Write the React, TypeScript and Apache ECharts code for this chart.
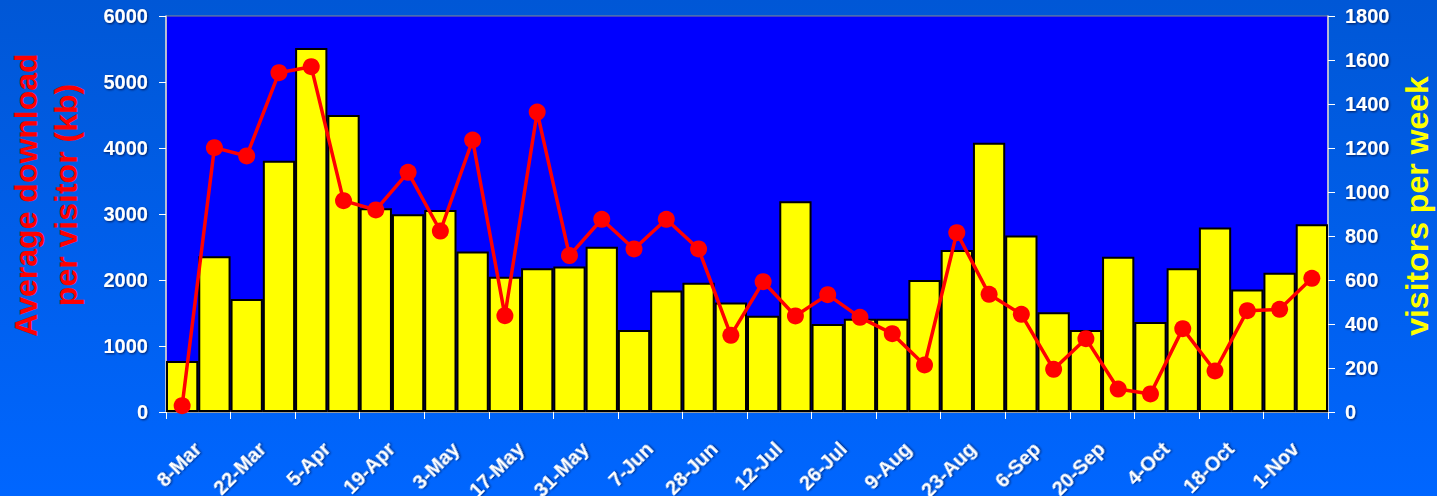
import React, { useEffect, useRef } from "react";
import * as echarts from "echarts";

const weeks = [
  "8-Mar", "15-Mar", "22-Mar", "29-Mar", "5-Apr", "12-Apr", "19-Apr", "26-Apr",
  "3-May", "10-May", "17-May", "24-May", "31-May", "3-Jun", "7-Jun", "21-Jun",
  "28-Jun", "5-Jul", "12-Jul", "19-Jul", "26-Jul", "2-Aug", "9-Aug", "16-Aug",
  "23-Aug", "30-Aug", "6-Sep", "13-Sep", "20-Sep", "27-Sep", "4-Oct", "11-Oct",
  "18-Oct", "25-Oct", "1-Nov", "8-Nov",
];

const visitorsPerWeek = [
  232, 708, 514, 1142, 1655, 1350, 926, 899, 918, 729, 615, 653,
  661, 751, 373, 552, 588, 498, 438, 958, 400, 424, 424, 600,
  736, 1224, 802, 453, 373, 706, 409, 653, 839, 557, 633, 853,
];

const avgDownloadKb = [
  95, 4005, 3879, 5141, 5232, 3202, 3061, 3632, 2742, 4121, 1460, 4545,
  2370, 2920, 2470, 2920, 2470, 1162, 1974, 1455, 1778, 1434, 1187, 712,
  2717, 1783, 1480, 647, 1111, 348, 273, 1263, 621, 1535, 1556, 2025,
];

const leftTicks = { min: 0, max: 6000, interval: 1000 };
const rightTicks = { min: 0, max: 1800, interval: 200 };

const FONT = '"Liberation Sans", Arial, Helvetica, sans-serif';

export default function App() {
  const ref = useRef<HTMLDivElement>(null);

  useEffect(() => {
    if (!ref.current) return;
    const chart = echarts.init(ref.current, null, { renderer: "svg" });

    const labelStyle = {
      color: "#ffffff",
      fontWeight: "bold" as const,
      fontSize: 20,
      fontFamily: FONT,
      textShadowColor: "rgba(0,0,40,0.7)",
      textShadowBlur: 2,
      textShadowOffsetX: 1,
      textShadowOffsetY: 1,
    };

    chart.setOption({
      animation: false,
      backgroundColor: new echarts.graphic.LinearGradient(0, 0, 0, 1, [
        { offset: 0, color: "#0057d6" },
        { offset: 1, color: "#0066ff" },
      ]),
      grid: {
        left: 166,
        right: 109,
        top: 16,
        bottom: 84,
        containLabel: false,
        outerBoundsMode: "none",
        show: true,
        backgroundColor: "#0000ff",
        borderColor: "#888888",
        borderWidth: 1,
      },
      xAxis: {
        type: "category",
        data: weeks,
        boundaryGap: true,
        axisLine: { show: true, lineStyle: { color: "#9a9a9a", width: 2 } },
        axisTick: {
          show: true,
          interval: 1,
          length: 7,
          lineStyle: { color: "#ffffff", width: 1 },
        },
        axisLabel: {
          ...labelStyle,
          interval: 1,
          rotate: 45,
          margin: 18,
          align: "right",
          verticalAlign: "top",
          lineHeight: 44,
          showMinLabel: true,
          hideOverlap: false,
        },
        splitLine: { show: false },
      },
      yAxis: [
        {
          type: "value",
          position: "left",
          ...leftTicks,
          axisLine: { show: true, lineStyle: { color: "#dddddd", width: 1.5 } },
          axisTick: { show: true, length: 7, lineStyle: { color: "#ffffff" } },
          axisLabel: { ...labelStyle, margin: 18, formatter: (v: number) => String(v) },
          splitLine: { show: false },
        },
        {
          type: "value",
          position: "right",
          ...rightTicks,
          axisLine: { show: true, lineStyle: { color: "#dddddd", width: 1.5 } },
          axisTick: { show: true, length: 7, lineStyle: { color: "#ffffff" } },
          axisLabel: { ...labelStyle, margin: 17, formatter: (v: number) => String(v) },
          splitLine: { show: false },
        },
      ],
      series: [
        {
          name: "visitors per week",
          type: "bar",
          yAxisIndex: 1,
          data: visitorsPerWeek,
          barCategoryGap: "0%",
          itemStyle: { color: "#ffff00", borderColor: "#000000", borderWidth: 2 },
          z: 2,
        },
        {
          name: "Average download per visitor (kb)",
          type: "line",
          yAxisIndex: 0,
          data: avgDownloadKb,
          symbol: "circle",
          symbolSize: 17,
          lineStyle: { color: "#ff0000", width: 3.5 },
          itemStyle: { color: "#ff0000" },
          z: 3,
        },
      ],
      graphic: [
        {
          type: "text",
          x: 46,
          y: 195,
          rotation: Math.PI / 2,
          style: {
            text: "Average download\nper visitor (kb)",
            fill: "#ff0000",
            font: `bold 32px ${FONT}`,
            align: "center",
            verticalAlign: "middle",
            textAlign: "center",
            textVerticalAlign: "middle",
            lineHeight: 40,
            shadowColor: "rgba(0,0,40,0.8)",
            shadowBlur: 3,
            shadowOffsetX: 1,
            shadowOffsetY: 2,
          },
        },
        {
          type: "text",
          x: 1417,
          y: 206,
          rotation: Math.PI / 2,
          style: {
            text: "visitors per week",
            fill: "#ffff00",
            font: `bold 32px ${FONT}`,
            align: "center",
            verticalAlign: "middle",
            textAlign: "center",
            textVerticalAlign: "middle",
            shadowColor: "rgba(0,0,40,0.8)",
            shadowBlur: 3,
            shadowOffsetX: 1,
            shadowOffsetY: 2,
          },
        },
      ],
    });

    return () => chart.dispose();
  }, []);

  return (
    <div
      ref={ref}
      style={{ position: "fixed", left: 0, top: 0, width: 1437, height: 496 }}
    />
  );
}
